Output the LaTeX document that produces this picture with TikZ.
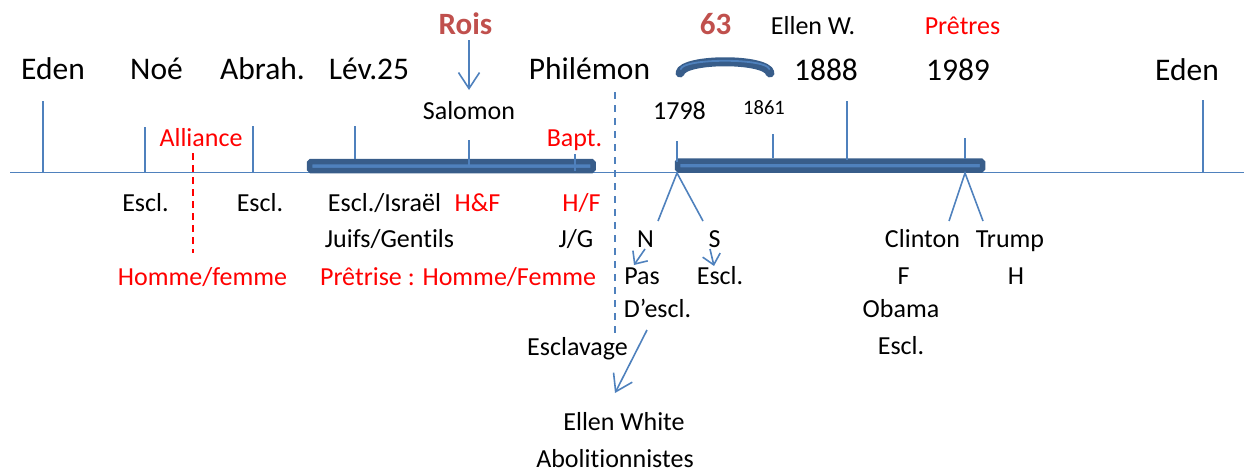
\documentclass[tikz,border=0pt]{standalone}
\usepackage{fontspec}
\setmainfont{Carlito}[Ligatures=NoCommon]
\usetikzlibrary{calc,
	positioning,
	arrows.meta}
\definecolor{axisblue}{RGB}{79,129,189}
\definecolor{bardark}{RGB}{56,93,138}
\definecolor{titlered}{RGB}{192,80,77}
\tikzstyle{tk}=[draw=axisblue, line width=1.6pt]
\tikzstyle{bar}=[draw=bardark, fill=axisblue, line width=5.5pt, rounded corners=1.5pt]
\tikzstyle{big}=[inner sep=0, anchor=base, font=\fontsize{31.5}{38}\selectfont]
\tikzstyle{med}=[inner sep=0, anchor=base, font=\fontsize{26}{31}\selectfont]
\tikzstyle{sml}=[inner sep=0, anchor=base, font=\fontsize{20.5}{25}\selectfont]
\tikzstyle{ttl}=[inner sep=0, anchor=base, text=titlered, font=\fontsize{31}{37}\selectfont\bfseries]
\tikzstyle{rd}=[text=red]
\tikzstyle{arr}=[draw=axisblue, line width=1.6pt, -{Straight Barb[length=16pt, width=21pt]}]
\tikzstyle{arrsm}=[draw=axisblue, line width=1.6pt, -{Straight Barb[length=10pt, width=18pt]}]

\begin{document}
\begin{tikzpicture}[x=1pt, y=-1pt]
        \useasboundingbox (0,0) rectangle (1244,471);
        % axe du temps
        \coordinate (ax-l) at (10,172.5);
        \coordinate (ax-r) at (1244,172.5);
        \draw[tk] (ax-l) -- (ax-r);
        % periodes
        \draw[bar] (309.5,161.5) rectangle (593,170.5);
        \draw[bar] (677.5,161) rectangle (982.5,170);
        % graduations
        \draw[tk] (43,101) -- (43,172) (145,127) -- (145,172) (253,126) -- (253,172)
            (355,126) -- (355,159) (469,140) -- (469,165) (575,154) -- (575,171)
            (677,141) -- (677,162) (773,134) -- (773,158) (847,101) -- (847,160)
            (965,138) -- (965,159) (1203,100) -- (1203,172);
        % 63 ans
        \draw[bardark, line width=9pt, line cap=round] (680,73) .. controls (683,58) and (767,58) .. (770,73);
        \draw[axisblue, line width=1.8pt, line cap=round, shorten <=4pt, shorten >=4pt] (680,73) .. controls (683,58) and (767,58) .. (770,73);
        % separations
        \coordinate (all-t) at (193,153);
        \coordinate (all-b) at (193,253);
        \draw[red, line width=1.8pt, dash pattern=on 7pt off 5pt] (all-t) -- (all-b);
        \coordinate (phi-t) at (615,92);
        \coordinate (phi-b) at (615,338);
        \draw[axisblue, line width=2pt, dash pattern=on 7pt off 6pt] (phi-t) -- (phi-b);

        % haut
        \node[ttl] (rois) at (465.5,34) {Rois};
        \node[ttl] (n63) at (715.5,34) {63};
        \node[med] (ellenw) at (813,34) {Ellen W.};
        \node[med, rd] (pretres) at (962.5,34) {Prêtres};
        \node[big] (eden1) at (53,79) {Eden};
        \node[big] (noe) at (156.5,79) {Noé};
        \node[big] (abrah) at (262.5,79) {Abrah.};
        \node[big] (lev) at (369,79) {Lév.25};
        \node[big] (phil) at (589.5,79) {Philémon};
        \node[big] (y1888) at (826,80) {1888};
        \node[big] (y1989) at (958,80) {1989};
        \node[big] (eden2) at (1187,80) {Eden};
        \node[med] (salomon) at (469,119) {Salomon};
        \node[med] (y1798) at (679.5,119) {1798};
        \node[sml] (y1861) at (764,114) {1861};
        \node[med, rd] (alliance) at (201,146) {Alliance};
        \node[med, rd] (bapt) at (574.5,146) {Bapt.};

        % bas
        \node[med] (escl1) at (145.5,211) {Escl.};
        \node[med] (escl2) at (260,211) {Escl.};
        \node[med] (israel) at (384.5,211) {Escl./Israël};
        \node[med, rd] (hetf) at (477.5,211) {H\&F};
        \node[med, rd] (hf) at (581.5,211) {H/F};
        \node[med] (juifs) at (389.5,247) {Juifs/Gentils};
        \node[med] (jg) at (576,247) {J/G};
        \node[med] (nord) at (645.5,247) {N};
        \node[med] (sud) at (714.5,247) {S};
        \node[med] (clinton) at (922.5,247) {Clinton};
        \node[med] (trump) at (1010,247) {Trump};
        \node[med, rd] (hommef) at (202.5,285) {Homme/femme};
        \node[med, rd] (pretrise) at (458,285) {Prêtrise : Homme/Femme};
        \node[med] (pas) at (642,284) {Pas};
        \node[med] (escl3) at (720,284) {Escl.};
        \node[med] (fem) at (903.5,284) {F};
        \node[med] (hom) at (1016,284) {H};
        \node[med] (descl) at (657.5,317) {D’escl.};
        \node[med] (obama) at (901,317) {Obama};
        \node[med] (esclavage) at (577.5,355) {Esclavage};
        \node[med] (escl4) at (901,354) {Escl.};
        \node[med] (ellen) at (624,430) {Ellen White};
        \node[med] (abol) at (615,467) {Abolitionnistes};

        % fleches
        \coordinate (rois-a) at (469,40);
        \coordinate (rois-b) at (469,90);
        \draw[arr] (rois-a) -- (rois-b);
        \coordinate (s1798) at (677,173);
        \coordinate (s1798n) at (658,221);
        \coordinate (s1798s) at (703,221);
        \draw[tk] (s1798n) -- (s1798) -- (s1798s);
        \coordinate (s1989) at (965,173);
        \coordinate (s1989c) at (949,221);
        \coordinate (s1989t) at (983,221);
        \draw[tk] (s1989c) -- (s1989) -- (s1989t);
        \coordinate (n-a) at (645,249);
        \coordinate (n-b) at (634,265);
        \draw[arrsm] (n-a) -- (n-b);
        \coordinate (s-a) at (710,249);
        \coordinate (s-b) at (714,266);
        \draw[arrsm] (s-a) -- (s-b);
        \coordinate (ew-a) at (647,330);
        \coordinate (ew-b) at (615,393);
        \draw[arr] (ew-a) -- (ew-b);
    \end{tikzpicture}
\end{document}
